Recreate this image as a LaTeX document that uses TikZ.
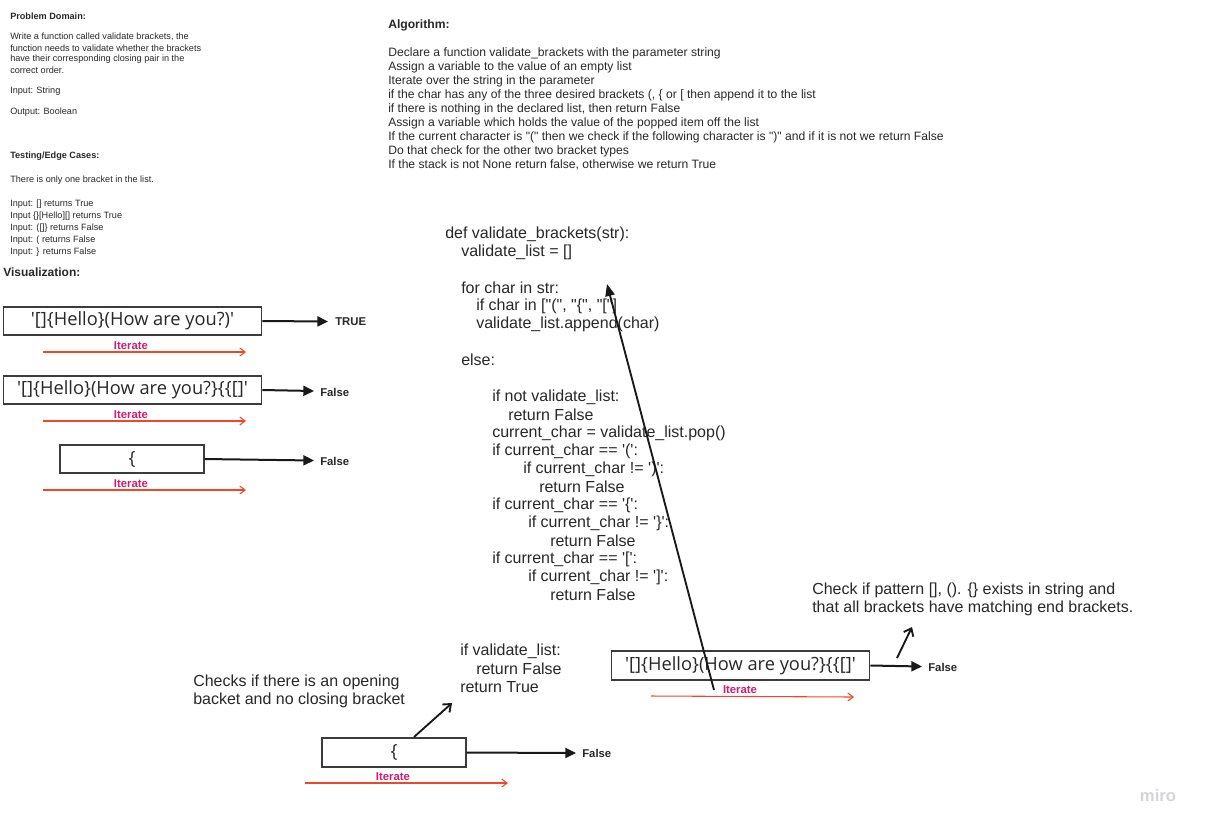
\documentclass[tikz,border=0pt]{standalone}
\usepackage{fontspec}
\setmainfont{Liberation Sans}[Ligatures=TeXOff]
\newfontfamily\boxfont{Open Sans}[Ligatures=TeXOff]
\usetikzlibrary{arrows.meta}
\definecolor{boxline}{RGB}{60,60,60}
\definecolor{iterred}{RGB}{242,71,38}
\definecolor{itertxt}{RGB}{206,30,110}
\definecolor{txtgray}{RGB}{40,40,40}
\definecolor{mirogray}{RGB}{212,212,218}
\tikzset{
  tiny/.style={anchor=west,inner sep=0pt,font=\fontsize{6.85}{8}\selectfont,text=txtgray},
  tinyb/.style={tiny,font=\fontsize{6.85}{8}\selectfont\bfseries},
  alg/.style={anchor=west,inner sep=0pt,font=\fontsize{9.1}{10.5}\selectfont,text=txtgray},
  algb/.style={alg,font=\fontsize{9.1}{10.5}\selectfont\bfseries},
  code/.style={anchor=west,inner sep=0pt,font=\fontsize{12}{13.5}\selectfont,text=txtgray},
  strbox/.style={draw=boxline,line width=0.8pt,minimum height=21pt,inner sep=0pt,font=\boxfont\fontsize{13.7}{15}\selectfont,text=txtgray},
  res/.style={anchor=west,inner sep=0pt,font=\fontsize{8.5}{10}\selectfont\bfseries,text=txtgray},
  itlbl/.style={inner sep=0pt,font=\fontsize{8.5}{10}\selectfont\bfseries,text=itertxt},
  outarrow/.style={line width=1.5pt,draw=black!90,-{Triangle[length=8pt,width=7.5pt]}},
  iterarrow/.style={line width=0.8pt,draw=iterred,-{Straight Barb[length=4pt,width=6pt]}},
  diagarrow/.style={line width=1.4pt,draw=black!90,-{Straight Barb[length=5pt,width=8pt]}},
  longarrow/.style={line width=1.4pt,draw=black!90,-{Triangle[length=9pt,width=7pt]}},
}
\begin{document}
\begin{tikzpicture}[x=0.75pt,y=-0.75pt]
\useasboundingbox[fill=white] (0,0) rectangle (1205,829);

% Problem domain
\node[tinyb] (pd) at (10,16) {Problem Domain:};
\node[tiny] (pd1) at (10,37) {Write a function called validate brackets, the};
\node[tiny] (pd2) at (10,48) {function needs to validate whether the brackets};
\node[tiny] (pd3) at (10,59) {have their corresponding closing pair in the};
\node[tiny] (pd4) at (10,70) {correct order.};
\node[tiny] (pd5) at (10,91) {Input: String};
\node[tiny] (pd6) at (10,112) {Output: Boolean};

% Testing
\node[tinyb] (te) at (10,156) {Testing/Edge Cases:};
\node[tiny] (te1) at (10,180) {There is only one bracket in the list.};
\node[tiny] (te2) at (10,204) {Input: [] returns True};
\node[tiny] (te3) at (10,216) {Input \{\}[Hello][] returns True};
\node[tiny] (te4) at (10,228) {Input: ([]\} returns False};
\node[tiny] (te5) at (10,240) {Input: ( returns False};
\node[tiny] (te6) at (10,252) {Input: \} returns False};

\node[anchor=west,inner sep=0pt,font=\fontsize{9}{10}\selectfont\bfseries,text=txtgray] (vis) at (3,272) {Visualization:};

% Algorithm
\node[algb] (al) at (388,25) {Algorithm:};
\node[alg] (al1) at (388,53) {Declare a function validate\_brackets with the parameter string};
\node[alg] (al2) at (388,67) {Assign a variable to the value of an empty list};
\node[alg] (al3) at (388,81) {Iterate over the string in the parameter};
\node[alg] (al4) at (388,95) {if the char has any of the three desired brackets (, \{ or [ then append it to the list};
\node[alg] (al5) at (388,109) {if there is nothing in the declared list, then return False};
\node[alg] (al6) at (388,123) {Assign a variable which holds the value of the popped item off the list};
\node[alg] (al7) at (388,137) {If the current character is "(" then we check if the following character is ")" and if it is not we return False};
\node[alg] (al8) at (388,151) {Do that check for the other two bracket types};
\node[alg] (al9) at (388,165) {If the stack is not None return false, otherwise we return True};

% Code
\node[code] (c1) at (445,234) {def validate\_brackets(str):};
\node[code] (c2) at (461,252) {validate\_list = []};
\node[code] (c3) at (461,288) {for char in str:};
\node[code] (c4) at (476,306) {if char in ["(", "\{", "["]};
\node[code] (c5) at (476,324) {validate\_list.append(char)};
\node[code] (c6) at (461,360) {else:};
\node[code] (c7) at (492,397) {if not validate\_list:};
\node[code] (c8) at (508,415) {return False};
\node[code] (c9) at (492,433) {current\_char = validate\_list.pop()};
\node[code] (c10) at (492,451) {if current\_char == '(':};
\node[code] (c11) at (523,469) {if current\_char != ')':};
\node[code] (c12) at (539,487) {return False};
\node[code] (c13) at (492,505) {if current\_char == '\{':};
\node[code] (c14) at (528,523) {if current\_char != '\}':};
\node[code] (c15) at (550,541) {return False};
\node[code] (c16) at (492,559) {if current\_char == '[':};
\node[code] (c17) at (528,577) {if current\_char != ']':};
\node[code] (c18) at (550,595) {return False};

\node[code] (c19) at (460,651) {if validate\_list:};
\node[code] (c20) at (476,669) {return False};
\node[code] (c21) at (460,687) {return True};

\node[code] (chk1) at (193,682) {Checks if there is an opening};
\node[code] (chk2) at (193,700) {backet and no closing bracket};

\node[code] (pat1) at (812,590) {Check if pattern [], (). \{\} exists in string and};
\node[code] (pat2) at (812,608) {that all brackets have matching end brackets.};

% Visualization boxes
\node[strbox,minimum width=194pt] (b1) at (132.5,321) {'[]\{Hello\}(How are you?)'};
\node[res] (r1) at (335,322) {TRUE};
\coordinate (r1a) at (328,321.5);
\draw[outarrow] (b1.east) -- (r1a);
\coordinate (i1s) at (43,352); \coordinate (i1e) at (246,352);
\draw[iterarrow] (i1s) -- (i1e);
\node[itlbl] (it1) at (131,345.5) {Iterate};

\node[strbox,minimum width=194pt] (b2) at (132.5,390) {'[]\{Hello\}(How are you?\}\{\{[]'};
\node[res] (r2) at (320,392) {False};
\coordinate (r2a) at (314,391);
\draw[outarrow] (b2.east) -- (r2a);
\coordinate (i2s) at (43,421); \coordinate (i2e) at (246,421);
\draw[iterarrow] (i2s) -- (i2e);
\node[itlbl] (it2) at (131,414.5) {Iterate};

\node[strbox,minimum width=108pt] (b3) at (132,459) {\{};
\node[res] (r3) at (320,461) {False};
\coordinate (r3a) at (314,460.5);
\draw[outarrow] (b3.east) -- (r3a);
\coordinate (i3s) at (43,490); \coordinate (i3e) at (246,490);
\draw[iterarrow] (i3s) -- (i3e);
\node[itlbl] (it3) at (131,483.5) {Iterate};

% bottom box
\node[strbox,minimum width=108pt,minimum height=21.75pt] (b4) at (394,752.5) {\{};
\node[res] (r4) at (582,753) {False};
\coordinate (r4a) at (576,753);
\draw[outarrow] (b4.east) -- (r4a);
\coordinate (i4s) at (305,783); \coordinate (i4e) at (508,783);
\draw[iterarrow] (i4s) -- (i4e);
\node[itlbl] (it4) at (393,776.5) {Iterate};
\coordinate (d4s) at (414,737); \coordinate (d4e) at (452,703);
\draw[diagarrow] (d4s) -- (d4e);

% right box
\node[strbox,minimum width=194pt,minimum height=21.75pt] (b5) at (740.5,665.5) {'[]\{Hello\}(How are you?\}\{\{[]'};
\node[res] (r5) at (928,667) {False};
\coordinate (r5a) at (922,666.5);
\draw[outarrow] (b5.east) -- (r5a);
\coordinate (i5s) at (651,696); \coordinate (i5e) at (854,697);
\draw[iterarrow] (i5s) -- (i5e);
\node[itlbl] (it5) at (740,689.5) {Iterate};
\coordinate (d5s) at (897,658); \coordinate (d5e) at (912,627);
\draw[diagarrow] (d5s) -- (d5e);
\coordinate (lgs) at (714,690); \coordinate (lge) at (607,284);
\draw[longarrow] (lgs) -- (lge);

% logo
\node[inner sep=0pt,font=\fontsize{12.5}{13}\selectfont\bfseries,text=mirogray] (miro) at (1158,796) {miro};
\end{tikzpicture}
\end{document}
